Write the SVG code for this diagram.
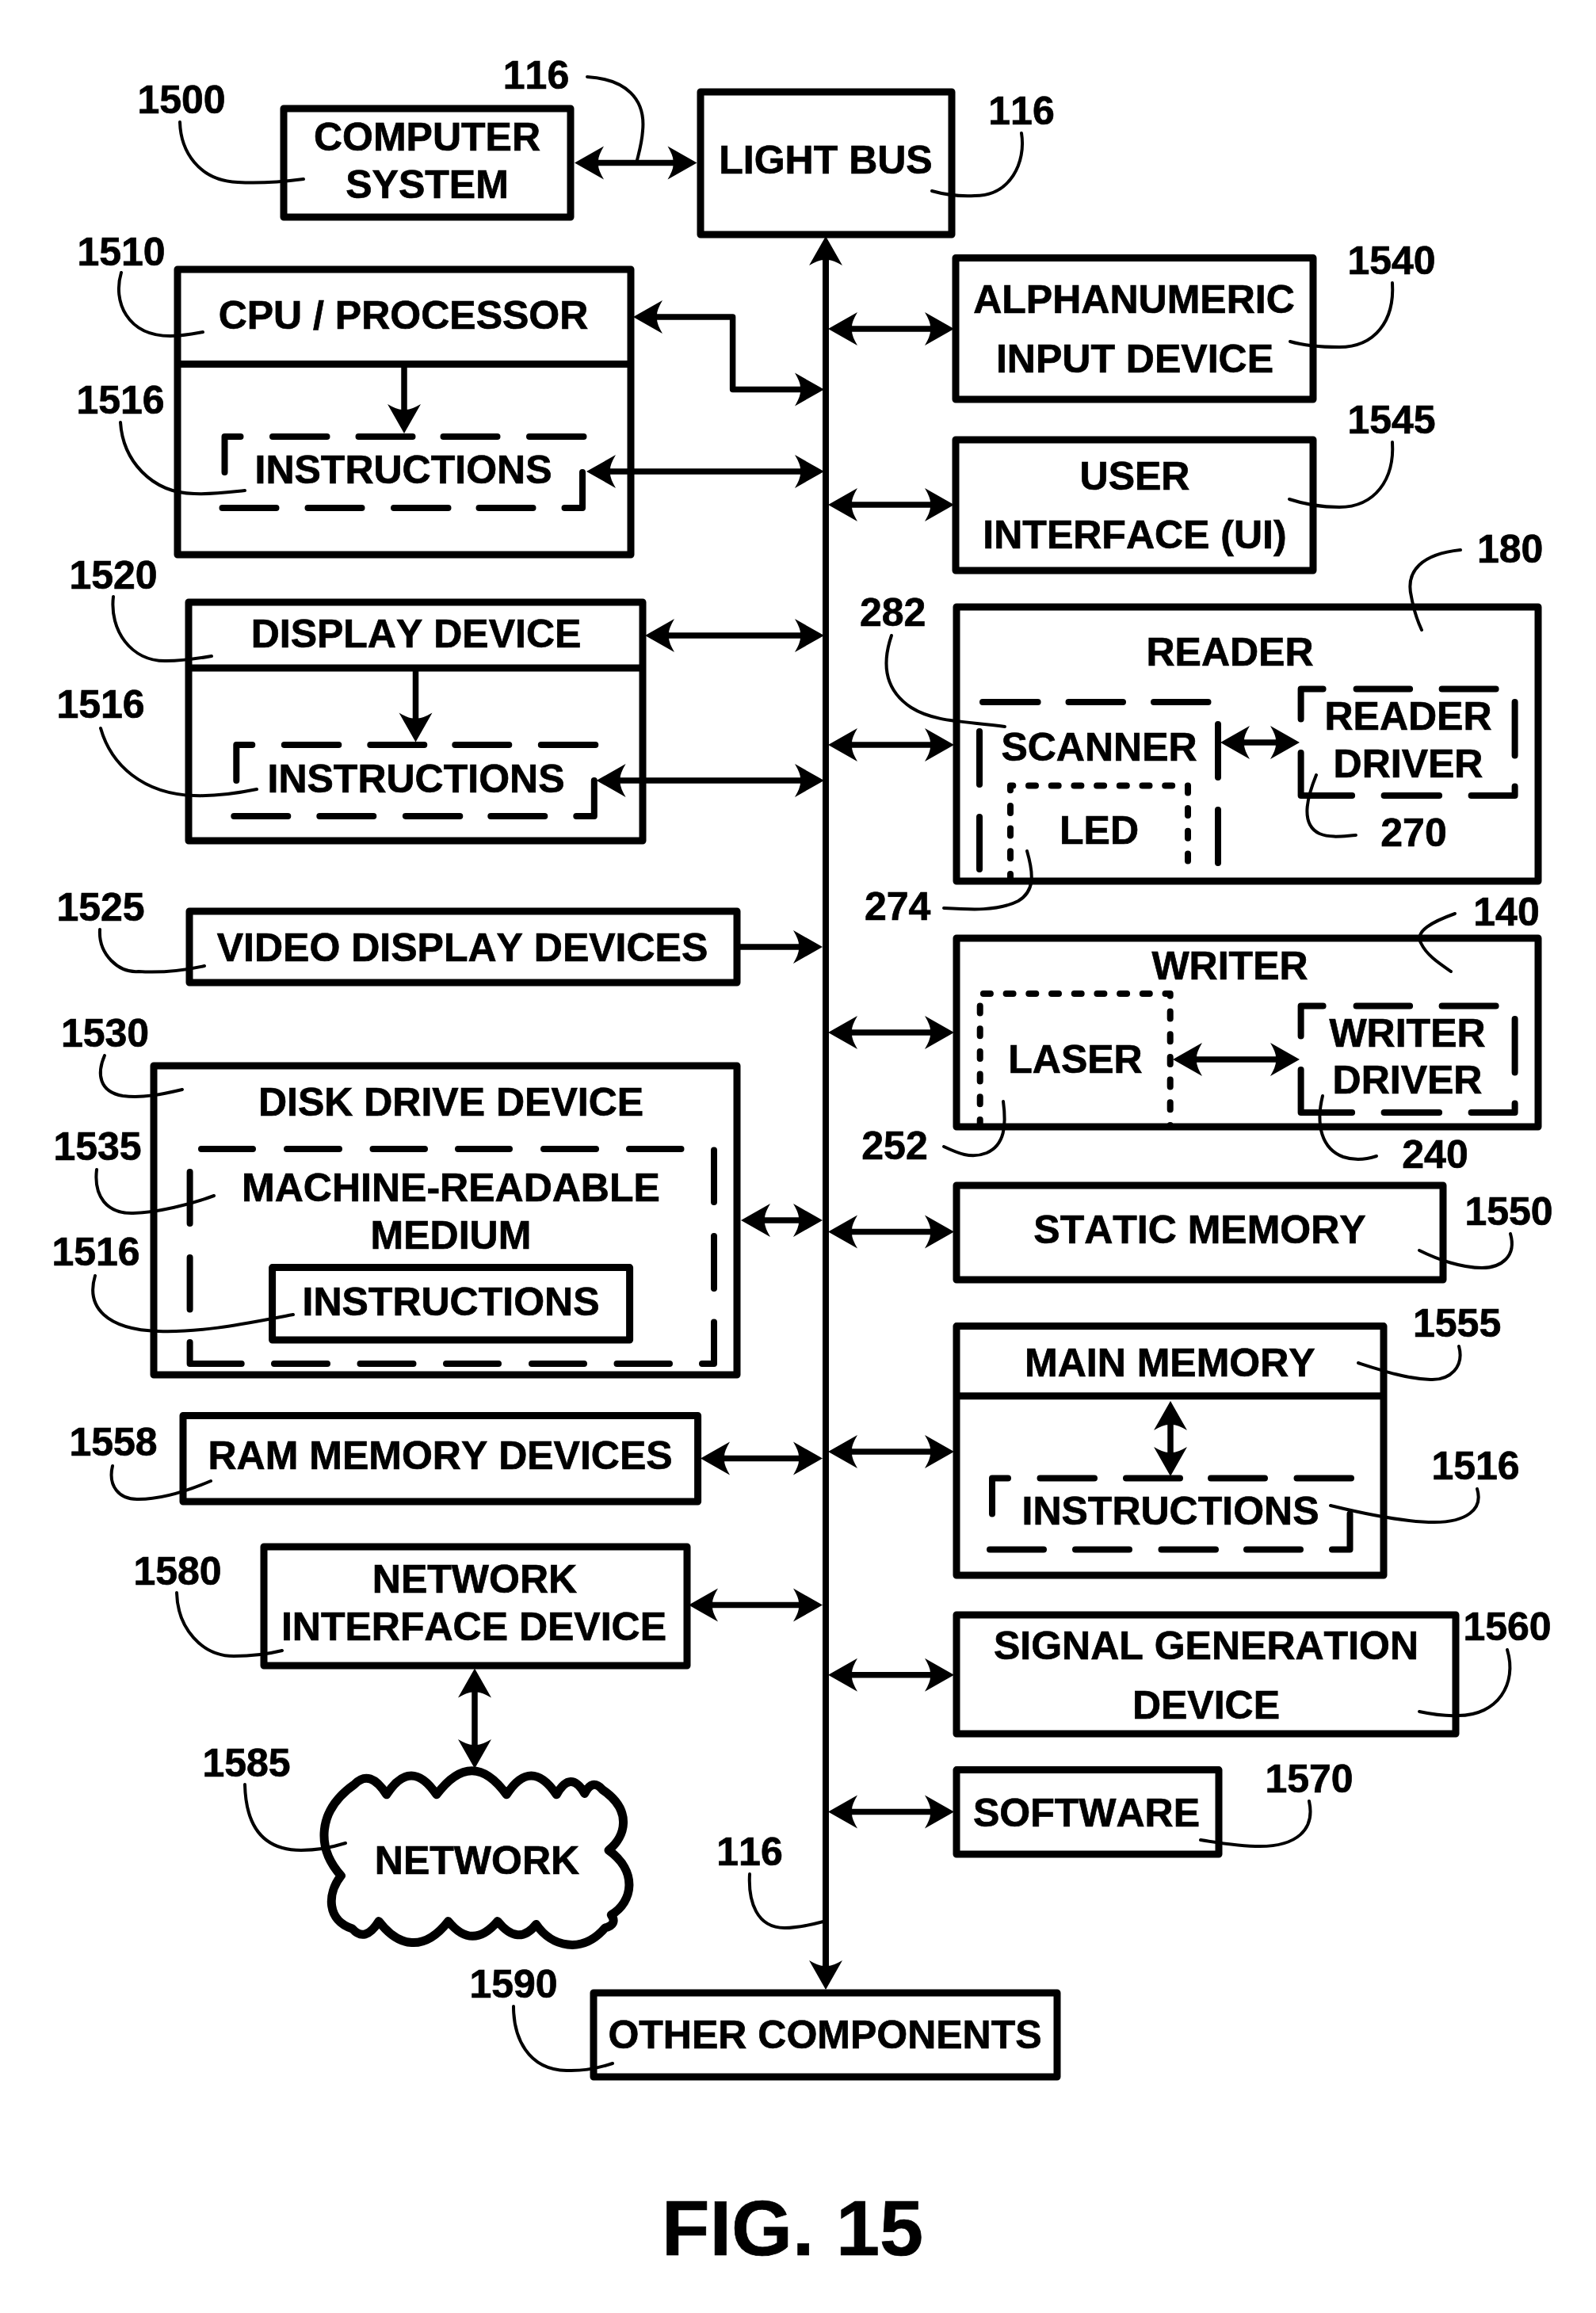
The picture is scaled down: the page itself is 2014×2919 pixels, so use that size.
<svg xmlns="http://www.w3.org/2000/svg" width="2014" height="2919" viewBox="0 0 2014 2919">
<style>
text{font-family:"Liberation Sans",Arial,sans-serif;font-weight:700;font-kerning:none;fill:#000;stroke:#000;stroke-width:.7;text-anchor:middle}
.t{font-size:50px}
.n{font-size:50px}
.f{font-size:99px}
.b{fill:none;stroke:#000;stroke-width:9;stroke-linejoin:round}
.d{fill:none;stroke:#000;stroke-width:8;stroke-linecap:round;stroke-linejoin:round}
.o{fill:none;stroke:#000;stroke-width:8;stroke-linecap:round;stroke-linejoin:round;stroke-dasharray:9 19.7}
.a{fill:none;stroke:#000;stroke-width:7.5;stroke-linejoin:round;marker-end:url(#h)}
.aa{fill:none;stroke:#000;stroke-width:7.5;stroke-linejoin:round;marker-start:url(#h);marker-end:url(#h)}
.l{fill:none;stroke:#000;stroke-width:4;stroke-linecap:round}
.c{fill:#fff;stroke:#000;stroke-width:11;stroke-linejoin:round}
</style>
<defs>
<marker id="h" markerUnits="userSpaceOnUse" markerWidth="38" markerHeight="44" refX="17" refY="22" orient="auto-start-reverse" overflow="visible">
<path d="M37,22 L0,1 Q7,13 7,19 L7,25 Q7,31 0,43 Z" fill="#000"/>
</marker>
<path id="instr-dash" class="d" d="M0,45V0H20M60.5,0H129M169,0H237M276,0H344M384.5,0H453M-3,90H65M105,90H173M213.5,90H282M321,90H389M429,90H451.5V45"/>
<path id="driver-dash" class="d" d="M0,38V0H28M70,0H137.5M178,0H246M270,16.5V84M270,123V134.5H215M174.5,134.5H105M64.5,134.5H0V80.5"/>
</defs>
<rect width="2014" height="2919" fill="#fff"/>

<g id="computer-system"><rect class="b" x="358" y="137" width="362" height="137"/><text class="t" x="539" y="190">COMPUTER</text><text class="t" x="539" y="250">SYSTEM</text></g>
<g id="light-bus"><rect class="b" x="884" y="116" width="317" height="180"/><text class="t" x="1042" y="219">LIGHT BUS</text></g>
<g id="cpu"><rect class="b" x="224" y="340" width="572" height="360"/><path class="b" d="M224,459.5H796"/><text class="t" x="509" y="415">CPU / PROCESSOR</text><use href="#instr-dash" x="283.5" y="551"/><text class="t" x="509" y="610">INSTRUCTIONS</text></g>
<g id="display-device"><rect class="b" x="238" y="760" width="573" height="301"/><path class="b" d="M238,843H811"/><text class="t" x="525" y="817">DISPLAY DEVICE</text><use href="#instr-dash" x="298.3" y="940"/><text class="t" x="525" y="1000">INSTRUCTIONS</text></g>
<g id="video-display-devices"><rect class="b" x="239" y="1150" width="691" height="90"/><text class="t" x="583.5" y="1213">VIDEO DISPLAY DEVICES</text></g>
<g id="disk-drive-device"><rect class="b" x="194" y="1345" width="736" height="390"/><text class="t" x="569" y="1408">DISK DRIVE DEVICE</text>
<path class="d" d="M254,1450H319M362,1450H428M470.5,1450H536M578,1450H643M686,1450H752M794,1450H859.5M901,1451.6V1517M901,1560V1626M901,1668.5V1721H886M845,1721H778.5M737,1721H671M629,1721H563M521.5,1721H454.5M413,1721H346M304.7,1721H239.6V1694M239.6,1652.5V1587M239.6,1544V1479"/>
<text class="t" x="569" y="1516">MACHINE-READABLE</text><text class="t" x="569" y="1576">MEDIUM</text>
<rect class="b" x="343.6" y="1599.6" width="451" height="91.4"/><text class="t" x="569" y="1660">INSTRUCTIONS</text></g>
<g id="ram-memory-devices"><rect class="b" x="231" y="1786.5" width="649.6" height="108.5"/><text class="t" x="555.6" y="1854">RAM MEMORY DEVICES</text></g>
<g id="network-interface-device"><rect class="b" x="333" y="1952" width="534" height="150"/><text class="t" x="599" y="2010">NETWORK</text><text class="t" x="598" y="2070">INTERFACE DEVICE</text></g>
<g id="network"><path class="c" d="M430.4,2367.2C399.5,2332.8 399.5,2285 447.8,2251.4Q467,2232 487.8,2264.8Q518.7,2217 550.9,2264.8Q596,2204.5 639.2,2264.8Q670,2217 702.3,2264.8Q720,2233 737.8,2263.4Q747.4,2244 760.3,2258.6C799,2285 789,2318 768,2335C805,2361.5 799,2400 771.3,2416.5Q779.6,2428.5 763.5,2433C734.5,2466.7 696,2457 676.6,2428.5Q654,2457 628,2424.6Q596,2462 565.7,2424.6C535,2464 502.6,2457 478,2424.6Q460.7,2452.4 444.6,2434C412.4,2423.7 412.4,2390 430.4,2367.2Z"/><text class="t" x="602" y="2365">NETWORK</text></g>
<g id="other-components"><rect class="b" x="749" y="2515" width="585" height="106"/><text class="t" x="1041" y="2585">OTHER COMPONENTS</text></g>

<g id="alphanumeric-input-device"><rect class="b" x="1206" y="325.5" width="451" height="178.5"/><text class="t" x="1431" y="395">ALPHANUMERIC</text><text class="t" x="1432" y="470">INPUT DEVICE</text></g>
<g id="user-interface"><rect class="b" x="1206" y="555" width="451" height="165"/><text class="t" x="1432" y="617.6">USER</text><text class="t" x="1432" y="692">INTERFACE (UI)</text></g>
<g id="reader"><rect class="b" x="1207" y="766" width="734" height="346"/><text class="t" x="1552" y="840">READER</text>
<path class="d" d="M1240,886H1309.6M1348.5,886H1417M1456,886H1524.5M1236,923V990M1236,1031V1097M1537,914V981M1537,1022V1089"/>
<text class="t" x="1387" y="960">SCANNER</text>
<path class="o" d="M1275,1112V991.5H1499V1095"/><text class="t" x="1387" y="1064.6">LED</text>
<use href="#driver-dash" x="1641.6" y="869.5"/><text class="t" x="1777" y="921">READER</text><text class="t" x="1777" y="980.6">DRIVER</text></g>
<g id="writer"><rect class="b" x="1207" y="1184" width="734" height="238"/><text class="t" x="1552" y="1236">WRITER</text>
<path class="o" d="M1236.7,1422V1254H1476.7V1422"/><text class="t" x="1357" y="1353.5">LASER</text>
<use href="#driver-dash" x="1641.6" y="1269.5"/><text class="t" x="1776" y="1321">WRITER</text><text class="t" x="1776" y="1380">DRIVER</text></g>
<g id="static-memory"><rect class="b" x="1207" y="1496" width="614" height="119"/><text class="t" x="1514" y="1569">STATIC MEMORY</text></g>
<g id="main-memory"><rect class="b" x="1207" y="1673.6" width="539" height="314.4"/><path class="b" d="M1207,1761.7H1746"/><text class="t" x="1476.4" y="1737">MAIN MEMORY</text><use href="#instr-dash" x="1252" y="1865.6"/><text class="t" x="1477" y="1924">INSTRUCTIONS</text></g>
<g id="signal-generation-device"><rect class="b" x="1207" y="2038" width="630" height="150"/><text class="t" x="1522" y="2094">SIGNAL GENERATION</text><text class="t" x="1522" y="2169">DEVICE</text></g>
<g id="software"><rect class="b" x="1207" y="2233.6" width="331" height="106.4"/><text class="t" x="1371" y="2305">SOFTWARE</text></g>

<g id="connectors">
<path class="aa" d="M1042,318V2491" style="stroke-width:8"/>
<path class="aa" d="M745,205.5H859.5"/>
<path class="aa" d="M819,400H924.6V491.5H1020"/>
<path class="aa" d="M760,595H1020"/>
<path class="aa" d="M834,802H1020"/>
<path class="aa" d="M772.6,985H1020"/>
<path class="a" d="M933,1195H1018"/>
<path class="aa" d="M955,1540H1018"/>
<path class="aa" d="M904,1840.6H1018"/>
<path class="aa" d="M889,2025.6H1018"/>
<path class="aa" d="M599,2125.5V2212"/>
<path class="a" d="M510,462V527"/>
<path class="a" d="M524.5,846V916.5"/>
<path class="aa" d="M1065,415H1184"/>
<path class="aa" d="M1065,637H1184"/>
<path class="aa" d="M1065,940H1184"/>
<path class="aa" d="M1065,1303H1184"/>
<path class="aa" d="M1065,1554.4H1184"/>
<path class="aa" d="M1065,1832H1184"/>
<path class="aa" d="M1065,2113.7H1184"/>
<path class="aa" d="M1065,2286.5H1184"/>
<path class="aa" d="M1560,937H1620"/>
<path class="aa" d="M1500,1337H1620"/>
<path class="aa" d="M1477,1788V1843"/>
</g>

<g id="leaders">
<path class="l" d="M227,154C228,190 250,228 300,230C330,232 360,229 383,226"/>
<path class="l" d="M741,97C790,100 815,125 811,165C810,180 807,190 804,202"/>
<path class="l" d="M1289,168C1295,205 1275,247 1230,247C1210,248 1190,245 1176,241"/>
<path class="l" d="M153,344C142,380 160,424 215,424C230,424 245,421 256,419"/>
<path class="l" d="M152,533C155,580 190,622 245,623C270,624 290,621 309,619"/>
<path class="l" d="M143,753C138,795 165,835 210,834C230,834 250,831 267,828"/>
<path class="l" d="M127,919C140,965 180,1002 245,1004C275,1005 300,1001 324,996"/>
<path class="l" d="M126,1173C124,1205 150,1228 175,1226C205,1228 235,1224 258,1219"/>
<path class="l" d="M132,1332C122,1355 125,1378 155,1383C180,1386 205,1381 230,1375"/>
<path class="l" d="M122,1476C118,1510 135,1532 168,1531C200,1530 240,1520 270,1509"/>
<path class="l" d="M120,1610C108,1650 135,1678 200,1680C260,1682 320,1668 370,1659"/>
<path class="l" d="M142,1850C136,1875 150,1893 175,1892C205,1892 240,1880 266,1869"/>
<path class="l" d="M223,2010C224,2055 255,2090 295,2090C320,2090 340,2087 356,2083"/>
<path class="l" d="M309,2252C310,2295 325,2335 380,2335C400,2335 420,2331 436,2326"/>
<path class="l" d="M648,2532C648,2570 665,2612 715,2613C740,2614 758,2609 773,2604"/>
<path class="l" d="M946,2365C944,2400 955,2433 990,2433C1008,2433 1024,2429 1039,2425"/>
<path class="l" d="M1757,357C1760,405 1735,438 1690,438C1665,438 1645,436 1628,431"/>
<path class="l" d="M1757,558C1760,605 1735,640 1690,640C1665,640 1645,636 1627,630"/>
<path class="l" d="M1843,694C1795,699 1773,720 1781,753C1784,770 1788,782 1794,795"/>
<path class="l" d="M1125,802C1112,840 1118,872 1150,893C1180,912 1220,910 1268,917"/>
<path class="l" d="M1661,978C1650,1005 1640,1040 1665,1052C1680,1058 1695,1055 1711,1054"/>
<path class="l" d="M1296,1074C1305,1105 1305,1125 1285,1137C1260,1150 1225,1148 1191,1146"/>
<path class="l" d="M1836,1153C1808,1163 1785,1175 1793,1190C1800,1205 1815,1215 1831,1226"/>
<path class="l" d="M1266,1390C1270,1420 1268,1445 1245,1455C1225,1463 1208,1455 1191,1447"/>
<path class="l" d="M1669,1383C1660,1420 1668,1450 1695,1460C1710,1465 1725,1463 1737,1459"/>
<path class="l" d="M1906,1557C1914,1585 1895,1600 1870,1600C1845,1600 1815,1590 1791,1578"/>
<path class="l" d="M1841,1699C1848,1725 1830,1742 1805,1741C1775,1740 1745,1730 1714,1720"/>
<path class="l" d="M1864,1879C1872,1905 1850,1921 1810,1921C1770,1921 1720,1910 1679,1900"/>
<path class="l" d="M1902,2082C1915,2125 1890,2165 1840,2165C1820,2166 1805,2163 1791,2160"/>
<path class="l" d="M1652,2273C1660,2310 1635,2330 1590,2330C1565,2330 1540,2326 1515,2322"/>
</g>

<g id="references">
<text class="n" x="229" y="143">1500</text>
<text class="n" x="676.5" y="112">116</text>
<text class="n" x="1289" y="157">116</text>
<text class="n" x="153" y="335">1510</text>
<text class="n" x="152" y="522">1516</text>
<text class="n" x="143" y="743">1520</text>
<text class="n" x="127" y="906">1516</text>
<text class="n" x="127" y="1162">1525</text>
<text class="n" x="132.5" y="1321">1530</text>
<text class="n" x="123" y="1464">1535</text>
<text class="n" x="121" y="1597">1516</text>
<text class="n" x="143" y="1837">1558</text>
<text class="n" x="224" y="2000">1580</text>
<text class="n" x="311" y="2242">1585</text>
<text class="n" x="946" y="2354">116</text>
<text class="n" x="648" y="2521">1590</text>
<text class="n" x="1756" y="346">1540</text>
<text class="n" x="1756" y="547">1545</text>
<text class="n" x="1905.6" y="710">180</text>
<text class="n" x="1126.6" y="790">282</text>
<text class="n" x="1784" y="1068">270</text>
<text class="n" x="1132.6" y="1161">274</text>
<text class="n" x="1901" y="1168">140</text>
<text class="n" x="1129" y="1463">252</text>
<text class="n" x="1811" y="1474">240</text>
<text class="n" x="1904" y="1546">1550</text>
<text class="n" x="1838.6" y="1687">1555</text>
<text class="n" x="1862" y="1867">1516</text>
<text class="n" x="1902" y="2070">1560</text>
<text class="n" x="1652" y="2262">1570</text>
<text class="f" x="1000" y="2846">FIG. 15</text>
</g>
</svg>
